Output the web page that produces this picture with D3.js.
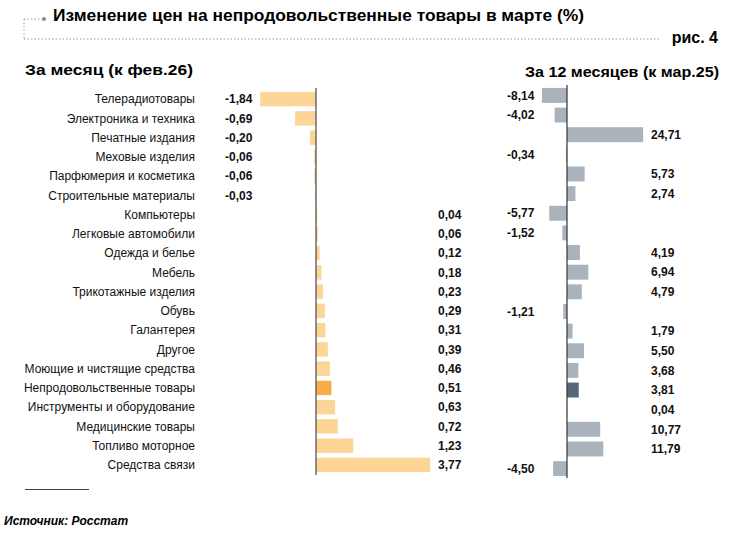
<!DOCTYPE html>
<html>
<head>
<meta charset="utf-8">
<script src="https://cdn.jsdelivr.net/npm/d3@7"></script>
<style>
  body { margin: 0; background: #fff; }
  svg { font-family: "Liberation Sans", Arial, sans-serif; }
</style>
</head>
<body>
<div id="chart"></div>
<script>
// categories (same order in both panels)
const categories = [
    "Телерадиотовары", "Электроника и техника", "Печатные издания", "Меховые изделия",
    "Парфюмерия и косметика", "Строительные материалы", "Компьютеры", "Легковые автомобили",
    "Одежда и белье", "Мебель", "Трикотажные изделия", "Обувь", "Галантерея", "Другое",
    "Моющие и чистящие средства", "Непродовольственные товары", "Инструменты и оборудование",
    "Медицинские товары", "Топливо моторное", "Средства связи"
];

// month to month change, %
const monthValues = [-1.84, -0.69, -0.20, -0.06, -0.06, -0.03, 0.04, 0.06, 0.12, 0.18,
    0.23, 0.29, 0.31, 0.39, 0.46, 0.51, 0.63, 0.72, 1.23, 3.77];

// 12 month change, %
const yearValues = [-8.14, -4.02, 24.71, -0.34, 5.73, 2.74, -5.77, -1.52, 4.19, 6.94,
    4.79, -1.21, 1.79, 5.50, 3.68, 3.81, 0.04, 10.77, 11.79, -4.50];

const highlight = "Непродовольственные товары";

const width = 730, height = 533;
const fmt = v => v.toFixed(2).replace(".", ",");

const svg = d3.select("#chart")
    .append("svg")
    .attr("width", width)
    .attr("height", height);

// header with dotted frame
const dotted = "1.5,2";
svg.append("line")
    .attr("x1", 24).attr("y1", 19).attr("x2", 42).attr("y2", 19)
    .attr("stroke", "#999").attr("stroke-dasharray", dotted);
svg.append("circle")
    .attr("cx", 44).attr("cy", 19).attr("r", 2)
    .attr("fill", "#888");
svg.append("line")
    .attr("x1", 24).attr("y1", 19).attr("x2", 24).attr("y2", 39)
    .attr("stroke", "#999").attr("stroke-dasharray", dotted);
svg.append("line")
    .attr("x1", 24).attr("y1", 39).attr("x2", 661).attr("y2", 39)
    .attr("stroke", "#999").attr("stroke-dasharray", dotted);

svg.append("text")
    .attr("x", 53).attr("y", 21)
    .attr("textLength", 531).attr("lengthAdjust", "spacingAndGlyphs")
    .style("font-size", "17px").style("font-weight", "bold")
    .text("Изменение цен на непродовольственные товары в марте (%)");

svg.append("text")
    .attr("x", 718).attr("y", 43)
    .attr("text-anchor", "end")
    .style("font-size", "16px").style("font-weight", "bold")
    .text("рис. 4");

svg.append("text")
    .attr("x", 25).attr("y", 75)
    .attr("textLength", 168).attr("lengthAdjust", "spacingAndGlyphs")
    .style("font-size", "14px").style("font-weight", "bold")
    .text("За месяц (к фев.26)");

svg.append("text")
    .attr("x", 525).attr("y", 77)
    .attr("textLength", 194).attr("lengthAdjust", "spacingAndGlyphs")
    .style("font-size", "14px").style("font-weight", "bold")
    .text("За 12 месяцев (к мар.25)");

// left panel: month
const xMonth = d3.scaleLinear().domain([0, 1]).range([316, 346.3]);
const yMonth = d3.scaleBand().domain(categories).range([88, 476]).paddingInner(0.25).paddingOuter(0.2);

svg.selectAll(".cat-label")
    .data(categories)
    .enter().append("text")
    .attr("class", "cat-label")
    .attr("x", 195)
    .attr("y", d => yMonth(d) + yMonth.bandwidth() / 2)
    .attr("dy", "0.35em")
    .attr("text-anchor", "end")
    .style("font-size", "12px")
    .attr("fill", "#111")
    .text(d => d);

svg.selectAll(".bar-month")
    .data(monthValues)
    .enter().append("rect")
    .attr("class", "bar-month")
    .attr("x", d => xMonth(Math.min(0, d)))
    .attr("y", (d, i) => yMonth(categories[i]))
    .attr("width", d => Math.abs(xMonth(d) - xMonth(0)))
    .attr("height", yMonth.bandwidth())
    .attr("fill", (d, i) => categories[i] === highlight ? "#f8ae48" : "#fcd597");

svg.selectAll(".val-month")
    .data(monthValues)
    .enter().append("text")
    .attr("class", "val-month")
    .attr("x", d => d < 0 ? 225 : 438)
    .attr("y", (d, i) => yMonth(categories[i]) + yMonth.bandwidth() / 2)
    .attr("dy", "0.35em")
    .style("font-size", "12px").style("font-weight", "bold")
    .attr("fill", "#111")
    .text(d => fmt(d));

svg.append("line")
    .attr("x1", xMonth(0)).attr("x2", xMonth(0))
    .attr("y1", 88).attr("y2", 475)
    .attr("stroke", "#555").attr("stroke-width", 1.3);

// right panel: 12 months
const xYear = d3.scaleLinear().domain([0, 1]).range([567, 570.08]);
const yYear = d3.scaleBand().domain(categories).range([84, 480]).paddingInner(0.24).paddingOuter(0.2);

svg.selectAll(".bar-year")
    .data(yearValues)
    .enter().append("rect")
    .attr("class", "bar-year")
    .attr("x", d => xYear(Math.min(0, d)))
    .attr("y", (d, i) => yYear(categories[i]))
    .attr("width", d => Math.abs(xYear(d) - xYear(0)))
    .attr("height", yYear.bandwidth())
    .attr("fill", (d, i) => categories[i] === highlight ? "#56677a" : "#aab3bc");

svg.selectAll(".val-year")
    .data(yearValues)
    .enter().append("text")
    .attr("class", "val-year")
    .attr("x", d => d < 0 ? 507 : 651)
    .attr("y", (d, i) => yYear(categories[i]) + yYear.bandwidth() / 2)
    .attr("dy", "0.35em")
    .style("font-size", "12px").style("font-weight", "bold")
    .attr("fill", "#111")
    .text(d => fmt(d));

svg.append("line")
    .attr("x1", xYear(0)).attr("x2", xYear(0))
    .attr("y1", 85).attr("y2", 478)
    .attr("stroke", "#333").attr("stroke-width", 1.2);

// footnote
svg.append("line")
    .attr("x1", 25).attr("x2", 89)
    .attr("y1", 489.5).attr("y2", 489.5)
    .attr("stroke", "#444").attr("stroke-width", 1);

svg.append("text")
    .attr("x", 4).attr("y", 525)
    .style("font-size", "12px").style("font-weight", "bold").style("font-style", "italic")
    .text("Источник: Росстат");
</script>
</body>
</html>
